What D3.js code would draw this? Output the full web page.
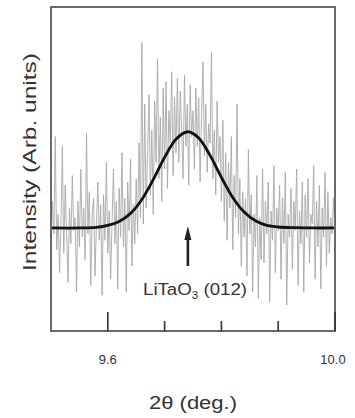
<!DOCTYPE html>
<html>
<head>
<meta charset="utf-8">
<script src="https://cdn.jsdelivr.net/npm/d3@7"></script>
<style>
  html, body { margin: 0; padding: 0; background: #fff; }
  text { font-family: "Liberation Sans", Arial, sans-serif; fill: #333; }
</style>
</head>
<body>
<svg id="chart"></svg>
<script>
// measured XRD scan, 2θ from 9.5 to 10.0 deg in 0.0025 steps
const thetaStart = 9.5;
const thetaStep = 0.0025;
const intensity = [
  28, 40, 30, 60, 25, 36, 18, 33, 57, 24,
  45, 30, 15, 38, 27, 48, 31, 35, 12, 40,
  26, 50, 29, 38, 22, 61, 30, 43, 14, 36,
  41, 17, 33, 46, 28, 39, 11, 42, 28, 52,
  24, 37, 16, 34, 50, 27, 40, 13, 44, 29,
  55, 26, 41, 12, 46, 31, 53, 20, 39, 27,
  47, 30, 58, 35, 89, 33, 70, 38, 55, 73,
  42, 62, 36, 71, 52, 84, 47, 66, 40, 75,
  50, 77, 44, 68, 58, 80, 48, 72, 55, 78,
  52, 74, 62, 47, 79, 57, 70, 45, 76, 60,
  68, 50, 75, 57, 72, 46, 66, 83, 54, 70,
  49, 64, 58, 86, 47, 62, 42, 71, 52, 60,
  40, 65, 34, 55, 28, 52, 38, 60, 25, 48,
  35, 70, 30, 47, 20, 43, 29, 41, 17, 56,
  30, 42, 12, 36, 26, 48, 10, 35, 22, 50,
  21, 40, 30, 46, 9, 37, 28, 51, 18, 38,
  31, 45, 16, 41, 27, 49, 8, 36, 29, 44,
  19, 40, 31, 50, 14, 37, 27, 46, 12, 42,
  29, 47, 21, 36, 33, 51, 16, 40, 26, 45,
  13, 38, 29, 49, 20, 43, 24, 35, 30, 41, 31
];

// fitted peak
const fitTheta = [9.50, 9.55, 9.58, 9.60, 9.62, 9.64, 9.66, 9.68, 9.70, 9.72, 9.741,
  9.76, 9.78, 9.80, 9.82, 9.84, 9.86, 9.88, 9.90, 9.93, 9.96, 10.0];
const fitValue = [31.8, 31.8, 32.0, 32.6, 33.8, 36.3, 40.6, 46.7, 53.6, 59.2, 61.5,
  59.6, 54.2, 47.4, 41.2, 36.7, 34.0, 32.6, 32.1, 31.9, 31.8, 31.8];

const majorTicks = [9.6, 10.0];
const minorTicks = [9.7, 9.8, 9.9];
const tickLabels = ['9.6', '10.0'];
const peakTheta = 9.741;

const width = 355, height = 418;
const margin = { top: 7, right: 20, bottom: 87, left: 51 };

const svg = d3.select('#chart')
  .attr('width', width)
  .attr('height', height);

// the scan is soft in the original, blur it a touch
svg.append('defs').append('filter')
  .attr('id', 'soft')
  .append('feGaussianBlur')
  .attr('stdDeviation', 0.45);

const x = d3.scaleLinear()
  .domain([9.5, 10.0])
  .range([margin.left, width - margin.right]);

const y = d3.scaleLinear()
  .domain([0, 100])
  .range([height - margin.bottom, margin.top]);

const scan = intensity.map((v, i) => ({ t: thetaStart + i * thetaStep, v }));
const fit = fitTheta.map((t, i) => ({ t, v: fitValue[i] }));

// raw data
svg.append('path')
  .datum(scan)
  .attr('fill', 'none')
  .attr('stroke', '#a8a8a8')
  .attr('stroke-width', 0.9)
  .attr('filter', 'url(#soft)')
  .attr('d', d3.line().x(d => x(d.t)).y(d => y(d.v)));

// fit
svg.append('path')
  .datum(fit)
  .attr('fill', 'none')
  .attr('stroke', '#111')
  .attr('stroke-width', 2.8)
  .attr('d', d3.line().curve(d3.curveCatmullRom).x(d => x(d.t)).y(d => y(d.v)));

// frame
svg.append('rect')
  .attr('x', x(9.5))
  .attr('y', y(100))
  .attr('width', x(10.0) - x(9.5))
  .attr('height', y(0) - y(100))
  .attr('fill', 'none')
  .attr('stroke', '#6a6a6a')
  .attr('stroke-width', 2);

// inward ticks
const axis = svg.append('g');
axis.selectAll('line.major')
  .data(majorTicks)
  .enter().append('line')
  .attr('x1', d => x(d)).attr('x2', d => x(d))
  .attr('y1', y(0)).attr('y2', y(0) - 19)
  .attr('stroke', '#333').attr('stroke-width', 1.6);
axis.selectAll('line.minor')
  .data(minorTicks)
  .enter().append('line')
  .attr('x1', d => x(d)).attr('x2', d => x(d))
  .attr('y1', y(0)).attr('y2', y(0) - 10)
  .attr('stroke', '#333').attr('stroke-width', 1.6);
axis.selectAll('text')
  .data(majorTicks)
  .enter().append('text')
  .attr('x', (d, i) => x(d) - (i === majorTicks.length - 1 ? 2 : 0))
  .attr('y', 364)
  .attr('text-anchor', 'middle')
  .style('font-size', '13px')
  .text((d, i) => tickLabels[i]);

// axis titles
svg.append('text')
  .attr('x', 193)
  .attr('y', 409)
  .attr('text-anchor', 'middle')
  .attr('textLength', 88)
  .attr('lengthAdjust', 'spacingAndGlyphs')
  .style('font-size', '18px')
  .text('2θ (deg.)');

svg.append('text')
  .attr('transform', 'translate(36,162) rotate(-90)')
  .attr('text-anchor', 'middle')
  .attr('textLength', 218)
  .attr('lengthAdjust', 'spacingAndGlyphs')
  .style('font-size', '19px')
  .text('Intensity (Arb. units)');

// peak marker
const ax = x(peakTheta);
svg.append('line')
  .attr('x1', ax).attr('x2', ax)
  .attr('y1', 236).attr('y2', 266)
  .attr('stroke', '#222').attr('stroke-width', 2.6);
svg.append('path')
  .attr('d', `M${ax},226 L${ax - 3.5},240 L${ax + 3.5},240 Z`)
  .attr('fill', '#222');

const lab = svg.append('text')
  .attr('x', 195)
  .attr('y', 295)
  .attr('text-anchor', 'middle')
  .attr('textLength', 104)
  .attr('lengthAdjust', 'spacingAndGlyphs')
  .style('font-size', '16px');
lab.append('tspan').text('LiTaO');
lab.append('tspan').attr('dy', 4).style('font-size', '10px').text('3');
lab.append('tspan').attr('dy', -4).text(' (012)');
</script>
</body>
</html>
